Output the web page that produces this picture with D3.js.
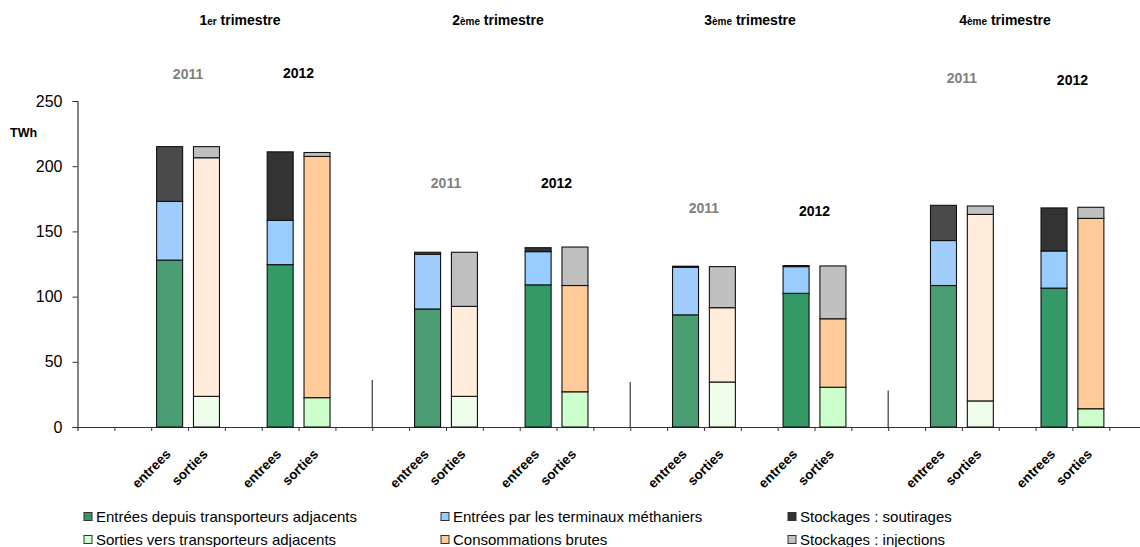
<!DOCTYPE html>
<html>
<head>
<meta charset="utf-8">
<script src="https://cdn.jsdelivr.net/npm/d3@7"></script>
<style>
  html, body { margin: 0; padding: 0; background: #fff; }
  svg { display: block; font-family: "Liberation Sans", Arial, sans-serif; }
</style>
</head>
<body>
<svg id="chart" width="1140" height="547"></svg>
<script>
// ---- data (TWh) ----
const quarters = ["1", "2", "3", "4"];
const quarterSuffix = ["er", "ème", "ème", "ème"];
const years = ["2011", "2012"];
const yTicks = [0, 50, 100, 150, 200, 250];

// x slots: blank slots keep the spacing between groups
const categories = [
  "", "", "entrees", "sorties", "", "entrees", "sorties", "",
  "", "entrees", "sorties", "", "entrees", "sorties", "",
  "", "entrees", "sorties", "", "entrees", "sorties", "",
  "", "entrees", "sorties", "", "entrees", "sorties", ""
];

// order: Q1-2011, Q1-2012, Q2-2011, Q2-2012, Q3-2011, Q3-2012, Q4-2011, Q4-2012
const entreesAdjacents   = [128, 124.5, 90.5, 109, 86, 102.5, 108.5, 106.5];
const terminauxMethaniers = [45, 34, 42, 25.5, 36.5, 20.5, 34.5, 28.5];
const soutirages         = [42, 52.5, 1.5, 3, 0.8, 0.8, 27, 33];
const sortiesAdjacents   = [23.5, 22.5, 23.5, 27, 34.5, 30.5, 20, 14];
const consommations      = [183, 185, 69, 81.5, 57, 52.5, 143, 146];
const injections         = [8.5, 3, 41.5, 29.5, 31.5, 40.5, 6.5, 8.5];

const legendLabels = [
  "Entrées depuis transporteurs adjacents",
  "Sorties vers transporteurs adjacents",
  "Entrées par les terminaux méthaniers",
  "Consommations brutes",
  "Stockages : soutirages",
  "Stockages : injections"
];

// ---- styling ----
const keys = ["eAdj", "term", "sout", "sAdj", "cons", "inj"];
const colors = {
  "2011": { eAdj: "#4b9d73", term: "#a0cdfb", sout: "#4a4a4a", sAdj: "#eefeea", cons: "#ffecdb", inj: "#c0c0c0" },
  "2012": { eAdj: "#339966", term: "#99ccff", sout: "#333333", sAdj: "#ccffcc", cons: "#ffcc99", inj: "#c0c0c0" }
};
const legendKeys = ["eAdj", "sAdj", "term", "cons", "sout", "inj"];

// ---- layout ----
const svg = d3.select("#chart");
const x0 = 77.5, slotW = 36.85;
const x = d3.scaleBand().domain(d3.range(categories.length))
  .range([x0, x0 + slotW * categories.length]).padding(0);
const xb = d3.scaleLinear().domain([0, categories.length])
  .range([x0, x0 + slotW * categories.length]);
const y = d3.scaleLinear().domain([0, 250]).range([427, 101]);
const barW = 26;

// rows for stacking: one row per bar
const rows = [];
let entreesSeen = 0, sortiesSeen = 0;
categories.forEach((c, i) => {
  if (c === "entrees") {
    const k = entreesSeen++;
    rows.push({ slot: i, idx: k, year: years[k % 2], quarter: Math.floor(k / 2), type: c,
      eAdj: entreesAdjacents[k], term: terminauxMethaniers[k], sout: soutirages[k],
      sAdj: 0, cons: 0, inj: 0 });
  } else if (c === "sorties") {
    const k = sortiesSeen++;
    rows.push({ slot: i, idx: k, year: years[k % 2], quarter: Math.floor(k / 2), type: c,
      eAdj: 0, term: 0, sout: 0,
      sAdj: sortiesAdjacents[k], cons: consommations[k], inj: injections[k] });
  }
});
const stacked = d3.stack().keys(keys)(rows);

// ---- axes ----
const yAxis = d3.axisLeft(y).tickValues(yTicks).tickSize(5).tickPadding(10);
const gy = svg.append("g").attr("transform", `translate(${x0},0)`).call(yAxis);
gy.select(".domain").attr("stroke", "#333").attr("stroke-width", 1.2);
gy.selectAll(".tick line").attr("stroke", "#333");
gy.selectAll(".tick text").attr("font-size", 16).attr("fill", "#000")
  .attr("font-family", "Liberation Sans, Arial, sans-serif");

const xAxis = d3.axisBottom(xb).tickValues(d3.range(1, categories.length)).tickSize(4).tickFormat("");
const gx = svg.append("g").attr("transform", `translate(0,${y(0)})`).call(xAxis);
gx.select(".domain").attr("stroke", "#333").attr("stroke-width", 1.2);
gx.selectAll(".tick line").attr("stroke", "#333");

svg.append("text").attr("x", 10).attr("y", 137).attr("font-size", 12.5)
  .attr("font-weight", "bold").text("TWh");

// quarter separators
const quarterStarts = [8, 15, 22];
const separatorHeights = [36, 34.5, 28];
svg.append("g").selectAll("line").data(quarterStarts).join("line")
  .attr("x1", d => xb(d)).attr("x2", d => xb(d))
  .attr("y1", (d, i) => y(separatorHeights[i])).attr("y2", y(0))
  .attr("stroke", "#555").attr("stroke-width", 1.4);

// ---- bars ----
const gBars = svg.append("g");
stacked.forEach(layer => {
  const key = layer.key;
  gBars.append("g").selectAll("rect")
    .data(layer.filter(d => d[1] - d[0] > 0))
    .join("rect")
    .attr("x", d => x(d.data.slot) + (x.bandwidth() - barW) / 2)
    .attr("width", barW)
    .attr("y", d => y(d[1]))
    .attr("height", d => y(d[0]) - y(d[1]))
    .attr("fill", d => colors[d.data.year][key])
    .attr("stroke", "#111")
    .attr("stroke-width", 1.1);
});

// category labels
svg.append("g").selectAll("text").data(rows).join("text")
  .attr("transform", d => `translate(${x(d.slot) + x.bandwidth() / 2 + 2},${y(0) + 28}) rotate(-45)`)
  .attr("text-anchor", "end").attr("font-size", 13.5).attr("font-weight", "bold")
  .text(d => categories[d.slot]);

// quarter titles
const titleSlots = [4.41, 11.41, 18.25, 25.17];
const titles = svg.append("g").selectAll("text").data(quarters).join("text")
  .attr("x", (d, i) => xb(titleSlots[i])).attr("y", 25)
  .attr("text-anchor", "middle").attr("font-weight", "bold").attr("font-size", 14);
titles.append("tspan").text(d => d);
titles.append("tspan").attr("font-size", 10).text((d, i) => quarterSuffix[i]);
titles.append("tspan").text(" trimestre");

// year labels above each pair of bars
const yearLabelLevel = [[271, 271.5], [187, 187], [168, 166], [268, 266]];
const pairs = [];
rows.filter(r => r.type === "entrees").forEach(r => {
  pairs.push({ x: x(r.slot) + x.bandwidth(), year: r.year, q: r.quarter });
});
svg.append("g").selectAll("text").data(pairs).join("text")
  .attr("x", d => d.x).attr("y", d => y(yearLabelLevel[d.q][years.indexOf(d.year)]))
  .attr("dy", "0.36em").attr("text-anchor", "middle")
  .attr("font-weight", "bold").attr("font-size", 14)
  .attr("fill", d => d.year === "2011" ? "#808080" : "#000")
  .text(d => d.year);

// ---- legend ----
const legendCols = [84, 441, 788];
const legendRows = [517, 540];
const lg = svg.append("g").selectAll("g").data(legendKeys).join("g")
  .attr("transform", (d, i) => `translate(${legendCols[Math.floor(i / 2)]},${legendRows[i % 2]})`);
lg.append("rect").attr("x", 0).attr("y", -4.5).attr("width", 8).attr("height", 8)
  .attr("fill", d => colors["2012"][d]).attr("stroke", "#333").attr("stroke-width", 1);
lg.append("text").attr("x", 12).attr("dy", "0.36em").attr("font-size", 15)
  .text((d, i) => legendLabels[i]);
</script>
</body>
</html>
